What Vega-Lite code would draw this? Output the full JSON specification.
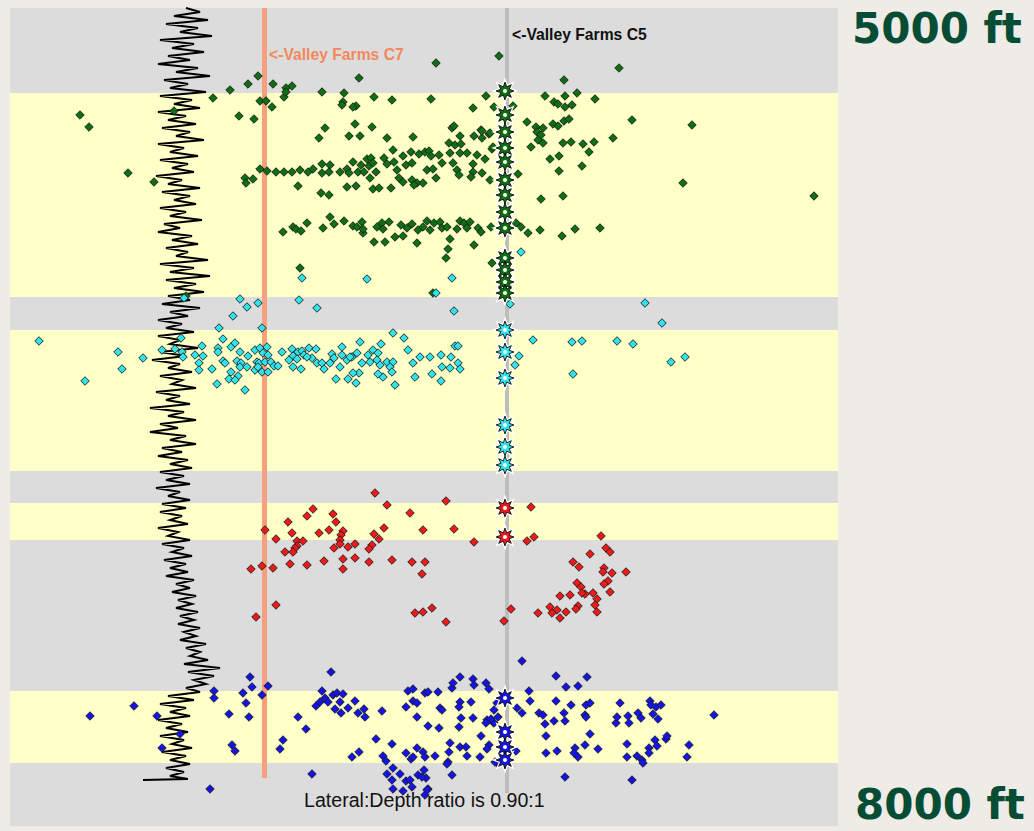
{
"$schema":"https://vega.github.io/schema/vega-lite/v6.json",
"width":828,"height":818,
"autosize":{"type":"none"},
"padding":{"left":10,"top":8,"right":196,"bottom":5},
"background":"#efebe7",
"view":{"fill":"#dcdcdc","stroke":null},
"datasets":{
"bands":[{"y":93,"y2":297},{"y":330,"y2":471},{"y":503,"y2":540},{"y":691,"y2":763}],
"wells":[{"name":"C7","x":264.5,"y":8,"y2":778},{"name":"C5","x":507,"y":8,"y2":793}],
"labels":[{"name":"C7","x":269,"y":55,"text":"<-Valley Farms C7"},{"name":"C5","x":512,"y":35,"text":"<-Valley Farms C5"},{"name":"ratio","x":304,"y":801,"text":"Lateral:Depth ratio is 0.90:1"},{"name":"depth","x":852,"y":30,"text":"5000 ft"},{"name":"depth","x":855,"y":806,"text":"8000 ft"}],
"log":[{"x":186,"y":8},{"x":200,"y":12},{"x":174,"y":16},{"x":208,"y":20},{"x":166,"y":24},{"x":198,"y":28},{"x":180,"y":32},{"x":212,"y":36},{"x":160,"y":40},{"x":194,"y":44},{"x":172,"y":48},{"x":204,"y":52},{"x":168,"y":56},{"x":190,"y":60},{"x":158,"y":64},{"x":198,"y":68},{"x":176,"y":72},{"x":210,"y":76},{"x":164,"y":80},{"x":188,"y":84},{"x":170,"y":88},{"x":206,"y":92},{"x":160,"y":96},{"x":192,"y":100},{"x":174,"y":104},{"x":200,"y":108},{"x":158,"y":112},{"x":186,"y":116},{"x":168,"y":120},{"x":196,"y":124},{"x":162,"y":128},{"x":190,"y":132},{"x":176,"y":136},{"x":204,"y":140},{"x":158,"y":144},{"x":184,"y":148},{"x":170,"y":152},{"x":198,"y":156},{"x":160,"y":160},{"x":188,"y":164},{"x":172,"y":168},{"x":194,"y":172},{"x":156,"y":176},{"x":182,"y":180},{"x":168,"y":184},{"x":200,"y":188},{"x":162,"y":192},{"x":190,"y":196},{"x":174,"y":200},{"x":196,"y":204},{"x":160,"y":208},{"x":186,"y":212},{"x":170,"y":216},{"x":202,"y":220},{"x":164,"y":224},{"x":180,"y":228},{"x":158,"y":232},{"x":192,"y":236},{"x":172,"y":240},{"x":198,"y":244},{"x":166,"y":248},{"x":188,"y":252},{"x":176,"y":256},{"x":208,"y":260},{"x":160,"y":264},{"x":194,"y":268},{"x":170,"y":272},{"x":210,"y":276},{"x":166,"y":280},{"x":196,"y":284},{"x":174,"y":288},{"x":204,"y":292},{"x":168,"y":296},{"x":190,"y":300},{"x":162,"y":304},{"x":200,"y":308},{"x":170,"y":312},{"x":188,"y":316},{"x":158,"y":320},{"x":182,"y":324},{"x":166,"y":328},{"x":194,"y":332},{"x":158,"y":336},{"x":180,"y":340},{"x":170,"y":344},{"x":198,"y":348},{"x":160,"y":352},{"x":186,"y":356},{"x":152,"y":360},{"x":180,"y":364},{"x":168,"y":368},{"x":192,"y":372},{"x":160,"y":376},{"x":182,"y":380},{"x":172,"y":384},{"x":196,"y":388},{"x":156,"y":392},{"x":180,"y":396},{"x":166,"y":400},{"x":190,"y":404},{"x":150,"y":408},{"x":184,"y":412},{"x":168,"y":416},{"x":196,"y":420},{"x":160,"y":424},{"x":178,"y":428},{"x":150,"y":432},{"x":186,"y":436},{"x":170,"y":440},{"x":196,"y":444},{"x":162,"y":448},{"x":182,"y":452},{"x":158,"y":456},{"x":188,"y":460},{"x":170,"y":464},{"x":192,"y":468},{"x":160,"y":472},{"x":184,"y":476},{"x":166,"y":480},{"x":190,"y":484},{"x":156,"y":488},{"x":180,"y":492},{"x":168,"y":496},{"x":190,"y":500},{"x":162,"y":504},{"x":186,"y":508},{"x":160,"y":512},{"x":182,"y":516},{"x":170,"y":520},{"x":188,"y":524},{"x":158,"y":528},{"x":178,"y":532},{"x":168,"y":536},{"x":190,"y":540},{"x":162,"y":544},{"x":184,"y":548},{"x":172,"y":552},{"x":192,"y":556},{"x":164,"y":560},{"x":186,"y":564},{"x":170,"y":568},{"x":188,"y":572},{"x":166,"y":576},{"x":194,"y":580},{"x":176,"y":584},{"x":190,"y":588},{"x":172,"y":592},{"x":196,"y":596},{"x":178,"y":600},{"x":192,"y":604},{"x":176,"y":608},{"x":198,"y":612},{"x":180,"y":616},{"x":194,"y":620},{"x":178,"y":624},{"x":200,"y":628},{"x":184,"y":632},{"x":196,"y":636},{"x":180,"y":640},{"x":206,"y":644},{"x":186,"y":648},{"x":200,"y":652},{"x":190,"y":656},{"x":208,"y":660},{"x":184,"y":664},{"x":220,"y":668},{"x":188,"y":672},{"x":214,"y":676},{"x":194,"y":680},{"x":206,"y":684},{"x":186,"y":688},{"x":200,"y":692},{"x":168,"y":696},{"x":194,"y":700},{"x":160,"y":704},{"x":186,"y":708},{"x":170,"y":712},{"x":190,"y":716},{"x":158,"y":720},{"x":182,"y":724},{"x":166,"y":728},{"x":188,"y":732},{"x":160,"y":736},{"x":184,"y":740},{"x":172,"y":744},{"x":192,"y":748},{"x":162,"y":752},{"x":186,"y":756},{"x":170,"y":760},{"x":190,"y":764},{"x":166,"y":768},{"x":184,"y":772},{"x":170,"y":776},{"x":188,"y":779},{"x":143,"y":780}],
"stars":[{"z":"g","x":505,"y":91},{"z":"g","x":505,"y":115},{"z":"g","x":505,"y":132},{"z":"g","x":505,"y":148},{"z":"g","x":505,"y":162},{"z":"g","x":505,"y":180},{"z":"g","x":505,"y":195},{"z":"g","x":505,"y":212},{"z":"g","x":505,"y":228},{"z":"g","x":505,"y":258},{"z":"g","x":505,"y":270},{"z":"g","x":505,"y":282},{"z":"g","x":505,"y":293},{"z":"c","x":505,"y":330},{"z":"c","x":505,"y":352},{"z":"c","x":505,"y":378},{"z":"c","x":505,"y":425},{"z":"c","x":505,"y":447},{"z":"c","x":505,"y":465},{"z":"r","x":505,"y":508},{"z":"r","x":505,"y":537},{"z":"b","x":505,"y":698},{"z":"b","x":505,"y":732},{"z":"b","x":505,"y":747},{"z":"b","x":505,"y":760}],
"pts":[
{"z":"g","x":258,"y":76},{"z":"g","x":248,"y":84},{"z":"g","x":230,"y":90},{"z":"g","x":213,"y":98},{"z":"g","x":273,"y":84},{"z":"g","x":286,"y":88},{"z":"g","x":292,"y":86},{"z":"g","x":284,"y":97},{"z":"g","x":286,"y":92},{"z":"g","x":359,"y":78},{"z":"g","x":322,"y":92},{"z":"g","x":344,"y":93},{"z":"g","x":374,"y":97},{"z":"g","x":392,"y":100},{"z":"g","x":260,"y":101},{"z":"g","x":266,"y":101},{"z":"g","x":272,"y":107},{"z":"g","x":343,"y":102},{"z":"g","x":342,"y":105},{"z":"g","x":356,"y":106},{"z":"g","x":353,"y":107},{"z":"g","x":239,"y":116},{"z":"g","x":254,"y":119},{"z":"g","x":80,"y":115},{"z":"g","x":89,"y":127},{"z":"g","x":174,"y":111},{"z":"g","x":325,"y":128},{"z":"g","x":319,"y":138},{"z":"g","x":349,"y":136},{"z":"g","x":360,"y":136},{"z":"g","x":355,"y":124},{"z":"g","x":372,"y":127},{"z":"g","x":387,"y":138},{"z":"g","x":413,"y":137},{"z":"g","x":393,"y":150},{"z":"g","x":128,"y":173},{"z":"g","x":154,"y":182},
{"z":"g","x":436,"y":63},{"z":"g","x":499,"y":56},{"z":"g","x":619,"y":68},{"z":"g","x":564,"y":80},{"z":"g","x":431,"y":99},{"z":"g","x":486,"y":96},{"z":"g","x":494,"y":107},{"z":"g","x":513,"y":106},{"z":"g","x":545,"y":96},{"z":"g","x":554,"y":102},{"z":"g","x":558,"y":104},{"z":"g","x":565,"y":96},{"z":"g","x":565,"y":107},{"z":"g","x":572,"y":105},{"z":"g","x":577,"y":93},{"z":"g","x":595,"y":99},{"z":"g","x":473,"y":108},{"z":"g","x":527,"y":122},{"z":"g","x":536,"y":127},{"z":"g","x":537,"y":132},{"z":"g","x":543,"y":128},{"z":"g","x":541,"y":135},{"z":"g","x":538,"y":140},{"z":"g","x":543,"y":143},{"z":"g","x":553,"y":124},{"z":"g","x":558,"y":126},{"z":"g","x":564,"y":121},{"z":"g","x":569,"y":119},{"z":"g","x":632,"y":120},{"z":"g","x":692,"y":125},{"z":"g","x":452,"y":128},{"z":"g","x":454,"y":126},{"z":"g","x":481,"y":130},{"z":"g","x":474,"y":136},{"z":"g","x":482,"y":138},{"z":"g","x":489,"y":134},{"z":"g","x":460,"y":136},{"z":"g","x":449,"y":143},{"z":"g","x":455,"y":145},{"z":"g","x":461,"y":144},{"z":"g","x":492,"y":149},{"z":"g","x":493,"y":147},{"z":"g","x":531,"y":147},{"z":"g","x":563,"y":143},{"z":"g","x":571,"y":142},{"z":"g","x":583,"y":144},{"z":"g","x":594,"y":142},{"z":"g","x":613,"y":138},{"z":"g","x":589,"y":152},{"z":"g","x":559,"y":156},{"z":"g","x":550,"y":159},{"z":"g","x":582,"y":166},{"z":"g","x":559,"y":171},{"z":"g","x":518,"y":174},{"z":"g","x":683,"y":183},{"z":"g","x":814,"y":196},{"z":"g","x":541,"y":199},{"z":"g","x":563,"y":196},{"z":"g","x":482,"y":131},{"z":"g","x":490,"y":133},
{"z":"g","x":245,"y":178},{"z":"g","x":246,"y":183},{"z":"g","x":253,"y":179},{"z":"g","x":260,"y":169},{"z":"g","x":267,"y":171},{"z":"g","x":276,"y":172},{"z":"g","x":284,"y":172},{"z":"g","x":292,"y":172},{"z":"g","x":300,"y":170},{"z":"g","x":308,"y":172},{"z":"g","x":313,"y":169},{"z":"g","x":322,"y":164},{"z":"g","x":330,"y":165},{"z":"g","x":322,"y":173},{"z":"g","x":329,"y":172},{"z":"g","x":340,"y":172},{"z":"g","x":347,"y":169},{"z":"g","x":349,"y":173},{"z":"g","x":353,"y":162},{"z":"g","x":358,"y":172},{"z":"g","x":361,"y":165},{"z":"g","x":364,"y":172},{"z":"g","x":367,"y":159},{"z":"g","x":369,"y":166},{"z":"g","x":371,"y":158},{"z":"g","x":373,"y":163},{"z":"g","x":376,"y":172},{"z":"g","x":384,"y":158},{"z":"g","x":387,"y":164},{"z":"g","x":394,"y":162},{"z":"g","x":397,"y":170},{"z":"g","x":403,"y":156},{"z":"g","x":406,"y":165},{"z":"g","x":412,"y":163},{"z":"g","x":411,"y":152},{"z":"g","x":419,"y":154},{"z":"g","x":425,"y":152},{"z":"g","x":429,"y":151},{"z":"g","x":431,"y":156},{"z":"g","x":439,"y":155},{"z":"g","x":442,"y":163},{"z":"g","x":450,"y":153},{"z":"g","x":453,"y":163},{"z":"g","x":460,"y":153},{"z":"g","x":467,"y":153},{"z":"g","x":473,"y":164},{"z":"g","x":477,"y":155},{"z":"g","x":485,"y":159},{"z":"g","x":482,"y":173},{"z":"g","x":473,"y":172},{"z":"g","x":490,"y":180},
{"z":"g","x":370,"y":178},{"z":"g","x":373,"y":189},{"z":"g","x":379,"y":188},{"z":"g","x":391,"y":188},{"z":"g","x":399,"y":178},{"z":"g","x":403,"y":182},{"z":"g","x":412,"y":180},{"z":"g","x":417,"y":183},{"z":"g","x":423,"y":183},{"z":"g","x":414,"y":185},{"z":"g","x":427,"y":170},{"z":"g","x":433,"y":169},{"z":"g","x":436,"y":178},{"z":"g","x":457,"y":170},{"z":"g","x":459,"y":175},{"z":"g","x":471,"y":177},{"z":"g","x":298,"y":186},{"z":"g","x":347,"y":187},{"z":"g","x":356,"y":186},{"z":"g","x":321,"y":193},{"z":"g","x":329,"y":195},
{"z":"g","x":283,"y":232},{"z":"g","x":293,"y":227},{"z":"g","x":296,"y":229},{"z":"g","x":301,"y":231},{"z":"g","x":307,"y":223},{"z":"g","x":323,"y":228},{"z":"g","x":330,"y":217},{"z":"g","x":334,"y":224},{"z":"g","x":344,"y":221},{"z":"g","x":353,"y":226},{"z":"g","x":357,"y":227},{"z":"g","x":362,"y":222},{"z":"g","x":363,"y":233},{"z":"g","x":363,"y":229},{"z":"g","x":374,"y":242},{"z":"g","x":377,"y":227},{"z":"g","x":382,"y":223},{"z":"g","x":383,"y":229},{"z":"g","x":385,"y":242},{"z":"g","x":389,"y":222},{"z":"g","x":395,"y":237},{"z":"g","x":401,"y":225},{"z":"g","x":403,"y":236},{"z":"g","x":407,"y":228},{"z":"g","x":412,"y":224},{"z":"g","x":417,"y":243},{"z":"g","x":418,"y":230},{"z":"g","x":423,"y":227},{"z":"g","x":427,"y":221},{"z":"g","x":430,"y":230},{"z":"g","x":434,"y":223},{"z":"g","x":440,"y":222},{"z":"g","x":442,"y":228},{"z":"g","x":447,"y":227},{"z":"g","x":450,"y":239},{"z":"g","x":448,"y":249},{"z":"g","x":446,"y":258},{"z":"g","x":457,"y":229},{"z":"g","x":460,"y":221},{"z":"g","x":464,"y":223},{"z":"g","x":467,"y":228},{"z":"g","x":470,"y":222},{"z":"g","x":474,"y":245},{"z":"g","x":478,"y":228},{"z":"g","x":481,"y":232},{"z":"g","x":491,"y":227},{"z":"g","x":492,"y":263},{"z":"g","x":516,"y":223},{"z":"g","x":521,"y":227},{"z":"g","x":528,"y":233},{"z":"g","x":540,"y":230},{"z":"g","x":562,"y":236},{"z":"g","x":575,"y":229},{"z":"g","x":600,"y":228},{"z":"g","x":300,"y":268},{"z":"g","x":186,"y":296},{"z":"g","x":433,"y":293},
{"z":"c","x":184,"y":298},{"z":"c","x":240,"y":299},{"z":"c","x":247,"y":307},{"z":"c","x":258,"y":303},{"z":"c","x":233,"y":316},{"z":"c","x":299,"y":300},{"z":"c","x":317,"y":308},{"z":"c","x":219,"y":328},{"z":"c","x":262,"y":328},{"z":"c","x":39,"y":341},{"z":"c","x":118,"y":352},{"z":"c","x":143,"y":358},{"z":"c","x":122,"y":369},{"z":"c","x":85,"y":381},{"z":"c","x":181,"y":338},{"z":"c","x":162,"y":350},{"z":"c","x":175,"y":349},{"z":"c","x":182,"y":352},{"z":"c","x":183,"y":357},{"z":"c","x":195,"y":355},{"z":"c","x":202,"y":346},{"z":"c","x":203,"y":356},{"z":"c","x":199,"y":363},{"z":"c","x":199,"y":370},{"z":"c","x":212,"y":369},{"z":"c","x":217,"y":384},{"z":"c","x":223,"y":339},{"z":"c","x":218,"y":348},{"z":"c","x":218,"y":352},{"z":"c","x":223,"y":361},{"z":"c","x":225,"y":363},{"z":"c","x":231,"y":347},{"z":"c","x":235,"y":343},{"z":"c","x":240,"y":352},{"z":"c","x":237,"y":361},{"z":"c","x":241,"y":363},{"z":"c","x":240,"y":367},{"z":"c","x":248,"y":356},{"z":"c","x":247,"y":367},{"z":"c","x":231,"y":372},{"z":"c","x":238,"y":376},{"z":"c","x":229,"y":379},{"z":"c","x":235,"y":380},{"z":"c","x":245,"y":390},{"z":"c","x":255,"y":350},{"z":"c","x":260,"y":348},{"z":"c","x":267,"y":347},{"z":"c","x":263,"y":353},{"z":"c","x":268,"y":355},{"z":"c","x":257,"y":362},{"z":"c","x":259,"y":363},{"z":"c","x":265,"y":362},{"z":"c","x":271,"y":362},{"z":"c","x":274,"y":366},{"z":"c","x":278,"y":366},{"z":"c","x":255,"y":370},{"z":"c","x":262,"y":372},{"z":"c","x":268,"y":372},{"z":"c","x":258,"y":367},{"z":"c","x":282,"y":352},{"z":"c","x":292,"y":349},{"z":"c","x":293,"y":356},{"z":"c","x":298,"y":352},{"z":"c","x":302,"y":351},{"z":"c","x":304,"y":355},{"z":"c","x":309,"y":348},{"z":"c","x":316,"y":349},{"z":"c","x":312,"y":358},{"z":"c","x":307,"y":357},{"z":"c","x":289,"y":360},{"z":"c","x":293,"y":367},{"z":"c","x":297,"y":359},{"z":"c","x":301,"y":369},{"z":"c","x":317,"y":363},{"z":"c","x":322,"y":363},{"z":"c","x":324,"y":369},{"z":"c","x":330,"y":363},{"z":"c","x":332,"y":354},{"z":"c","x":334,"y":358},{"z":"c","x":340,"y":367},{"z":"c","x":342,"y":347},{"z":"c","x":342,"y":355},{"z":"c","x":347,"y":360},{"z":"c","x":352,"y":357},{"z":"c","x":357,"y":353},{"z":"c","x":360,"y":342},{"z":"c","x":362,"y":363},{"z":"c","x":368,"y":355},{"z":"c","x":370,"y":362},{"z":"c","x":373,"y":350},{"z":"c","x":378,"y":353},{"z":"c","x":381,"y":344},{"z":"c","x":377,"y":360},{"z":"c","x":380,"y":365},{"z":"c","x":387,"y":362},{"z":"c","x":393,"y":362},{"z":"c","x":390,"y":367},{"z":"c","x":393,"y":333},{"z":"c","x":404,"y":338},{"z":"c","x":408,"y":350},{"z":"c","x":413,"y":363},{"z":"c","x":415,"y":377},{"z":"c","x":395,"y":385},{"z":"c","x":392,"y":372},{"z":"c","x":383,"y":377},{"z":"c","x":378,"y":374},{"z":"c","x":359,"y":373},{"z":"c","x":353,"y":373},{"z":"c","x":356,"y":383},{"z":"c","x":348,"y":379},{"z":"c","x":336,"y":379},{"z":"c","x":350,"y":357},
{"z":"c","x":436,"y":293},{"z":"c","x":454,"y":311},{"z":"c","x":645,"y":303},{"z":"c","x":662,"y":323},{"z":"c","x":455,"y":346},{"z":"c","x":458,"y":346},{"z":"c","x":533,"y":340},{"z":"c","x":572,"y":342},{"z":"c","x":582,"y":341},{"z":"c","x":617,"y":341},{"z":"c","x":633,"y":344},{"z":"c","x":671,"y":362},{"z":"c","x":685,"y":357},{"z":"c","x":573,"y":374},{"z":"c","x":420,"y":357},{"z":"c","x":430,"y":357},{"z":"c","x":441,"y":355},{"z":"c","x":451,"y":357},{"z":"c","x":458,"y":363},{"z":"c","x":460,"y":369},{"z":"c","x":450,"y":368},{"z":"c","x":442,"y":367},{"z":"c","x":432,"y":374},{"z":"c","x":441,"y":381},{"z":"c","x":519,"y":356},{"z":"c","x":515,"y":365},{"z":"c","x":510,"y":304},{"z":"c","x":302,"y":278},{"z":"c","x":367,"y":279},{"z":"c","x":452,"y":278},{"z":"c","x":521,"y":252},
{"z":"r","x":375,"y":493},{"z":"r","x":387,"y":505},{"z":"r","x":410,"y":513},{"z":"r","x":446,"y":501},{"z":"r","x":531,"y":507},{"z":"r","x":313,"y":509},{"z":"r","x":307,"y":516},{"z":"r","x":288,"y":522},{"z":"r","x":333,"y":514},{"z":"r","x":336,"y":522},{"z":"r","x":265,"y":530},{"z":"r","x":292,"y":533},{"z":"r","x":319,"y":533},{"z":"r","x":329,"y":530},{"z":"r","x":343,"y":531},{"z":"r","x":341,"y":535},{"z":"r","x":340,"y":540},{"z":"r","x":384,"y":528},{"z":"r","x":374,"y":534},{"z":"r","x":379,"y":539},{"z":"r","x":423,"y":530},{"z":"r","x":454,"y":529},{"z":"r","x":474,"y":542},{"z":"r","x":527,"y":541},{"z":"r","x":534,"y":537},{"z":"r","x":601,"y":536},{"z":"r","x":276,"y":539},{"z":"r","x":297,"y":541},{"z":"r","x":303,"y":541},{"z":"r","x":297,"y":546},{"z":"r","x":295,"y":548},{"z":"r","x":285,"y":552},{"z":"r","x":293,"y":552},{"z":"r","x":334,"y":548},{"z":"r","x":340,"y":544},{"z":"r","x":348,"y":547},{"z":"r","x":355,"y":544},{"z":"r","x":372,"y":545},{"z":"r","x":369,"y":549},{"z":"r","x":324,"y":561},{"z":"r","x":307,"y":565},{"z":"r","x":290,"y":564},{"z":"r","x":343,"y":559},{"z":"r","x":355,"y":558},{"z":"r","x":369,"y":562},{"z":"r","x":392,"y":560},{"z":"r","x":412,"y":562},{"z":"r","x":425,"y":562},{"z":"r","x":343,"y":569},{"z":"r","x":422,"y":574},{"z":"r","x":251,"y":569},{"z":"r","x":262,"y":566},{"z":"r","x":273,"y":568},{"z":"r","x":276,"y":605},{"z":"r","x":256,"y":617},{"z":"r","x":415,"y":613},{"z":"r","x":423,"y":612},{"z":"r","x":432,"y":608},{"z":"r","x":446,"y":622},{"z":"r","x":504,"y":621},{"z":"r","x":511,"y":609},{"z":"r","x":606,"y":548},{"z":"r","x":610,"y":552},{"z":"r","x":590,"y":554},{"z":"r","x":573,"y":562},{"z":"r","x":579,"y":567},{"z":"r","x":604,"y":568},{"z":"r","x":603,"y":572},{"z":"r","x":612,"y":573},{"z":"r","x":626,"y":572},{"z":"r","x":608,"y":581},{"z":"r","x":604,"y":584},{"z":"r","x":577,"y":583},{"z":"r","x":581,"y":587},{"z":"r","x":610,"y":592},{"z":"r","x":593,"y":593},{"z":"r","x":585,"y":594},{"z":"r","x":582,"y":593},{"z":"r","x":570,"y":595},{"z":"r","x":560,"y":596},{"z":"r","x":597,"y":599},{"z":"r","x":595,"y":605},{"z":"r","x":578,"y":606},{"z":"r","x":576,"y":609},{"z":"r","x":566,"y":612},{"z":"r","x":557,"y":610},{"z":"r","x":550,"y":607},{"z":"r","x":552,"y":613},{"z":"r","x":560,"y":618},{"z":"r","x":538,"y":613},{"z":"r","x":597,"y":612},
{"z":"b","x":90,"y":716},{"z":"b","x":134,"y":706},{"z":"b","x":157,"y":716},{"z":"b","x":180,"y":734},{"z":"b","x":162,"y":748},{"z":"b","x":214,"y":691},{"z":"b","x":214,"y":698},{"z":"b","x":229,"y":714},{"z":"b","x":232,"y":745},{"z":"b","x":235,"y":751},{"z":"b","x":243,"y":693},{"z":"b","x":246,"y":703},{"z":"b","x":249,"y":717},{"z":"b","x":250,"y":677},{"z":"b","x":252,"y":687},{"z":"b","x":262,"y":695},{"z":"b","x":268,"y":686},{"z":"b","x":210,"y":789},{"z":"b","x":298,"y":717},{"z":"b","x":306,"y":729},{"z":"b","x":283,"y":740},{"z":"b","x":280,"y":749},{"z":"b","x":312,"y":774},{"z":"b","x":331,"y":672},{"z":"b","x":322,"y":691},{"z":"b","x":316,"y":706},{"z":"b","x":320,"y":702},{"z":"b","x":325,"y":698},{"z":"b","x":328,"y":702},{"z":"b","x":333,"y":695},{"z":"b","x":337,"y":693},{"z":"b","x":343,"y":694},{"z":"b","x":340,"y":702},{"z":"b","x":335,"y":709},{"z":"b","x":341,"y":713},{"z":"b","x":348,"y":708},{"z":"b","x":355,"y":701},{"z":"b","x":358,"y":713},{"z":"b","x":364,"y":709},{"z":"b","x":365,"y":717},{"z":"b","x":382,"y":711},{"z":"b","x":376,"y":739},{"z":"b","x":392,"y":744},{"z":"b","x":352,"y":757},{"z":"b","x":359,"y":752},{"z":"b","x":383,"y":756},{"z":"b","x":386,"y":761},{"z":"b","x":393,"y":768},{"z":"b","x":387,"y":774},{"z":"b","x":392,"y":780},{"z":"b","x":400,"y":774},{"z":"b","x":406,"y":781},{"z":"b","x":393,"y":789},{"z":"b","x":403,"y":791},{"z":"b","x":410,"y":780},{"z":"b","x":412,"y":787},{"z":"b","x":406,"y":753},{"z":"b","x":411,"y":759},{"z":"b","x":413,"y":757},{"z":"b","x":408,"y":691},{"z":"b","x":413,"y":689},{"z":"b","x":413,"y":701},{"z":"b","x":406,"y":707},{"z":"b","x":417,"y":703},{"z":"b","x":417,"y":717},{"z":"b","x":428,"y":726},{"z":"b","x":425,"y":693},{"z":"b","x":428,"y":692},{"z":"b","x":438,"y":692},{"z":"b","x":440,"y":708},{"z":"b","x":442,"y":710},{"z":"b","x":439,"y":728},{"z":"b","x":417,"y":748},{"z":"b","x":423,"y":752},{"z":"b","x":425,"y":757},{"z":"b","x":424,"y":770},{"z":"b","x":418,"y":775},{"z":"b","x":426,"y":778},{"z":"b","x":428,"y":789},{"z":"b","x":425,"y":795},{"z":"b","x":435,"y":756},{"z":"b","x":448,"y":762},{"z":"b","x":447,"y":764},{"z":"b","x":452,"y":775},{"z":"b","x":450,"y":743},{"z":"b","x":449,"y":752},{"z":"b","x":460,"y":747},{"z":"b","x":466,"y":747},{"z":"b","x":467,"y":756},{"z":"b","x":480,"y":757},{"z":"b","x":481,"y":736},{"z":"b","x":489,"y":745},{"z":"b","x":487,"y":749},{"z":"b","x":459,"y":727},{"z":"b","x":461,"y":718},{"z":"b","x":473,"y":718},{"z":"b","x":471,"y":702},{"z":"b","x":460,"y":702},{"z":"b","x":459,"y":707},{"z":"b","x":452,"y":688},{"z":"b","x":453,"y":683},{"z":"b","x":460,"y":677},{"z":"b","x":473,"y":679},{"z":"b","x":474,"y":685},{"z":"b","x":486,"y":683},{"z":"b","x":489,"y":689},{"z":"b","x":494,"y":710},{"z":"b","x":493,"y":722},{"z":"b","x":498,"y":717},{"z":"b","x":497,"y":703},{"z":"b","x":487,"y":720},{"z":"b","x":497,"y":763},{"z":"b","x":522,"y":661},{"z":"b","x":556,"y":676},{"z":"b","x":587,"y":677},{"z":"b","x":566,"y":687},{"z":"b","x":578,"y":686},{"z":"b","x":529,"y":691},{"z":"b","x":530,"y":701},{"z":"b","x":556,"y":701},{"z":"b","x":571,"y":705},{"z":"b","x":586,"y":705},{"z":"b","x":590,"y":703},{"z":"b","x":620,"y":703},{"z":"b","x":650,"y":701},{"z":"b","x":651,"y":705},{"z":"b","x":656,"y":707},{"z":"b","x":661,"y":705},{"z":"b","x":714,"y":715},{"z":"b","x":494,"y":723},{"z":"b","x":491,"y":719},{"z":"b","x":486,"y":723},{"z":"b","x":517,"y":708},{"z":"b","x":522,"y":713},{"z":"b","x":539,"y":713},{"z":"b","x":543,"y":715},{"z":"b","x":545,"y":724},{"z":"b","x":554,"y":721},{"z":"b","x":564,"y":713},{"z":"b","x":565,"y":721},{"z":"b","x":585,"y":715},{"z":"b","x":586,"y":717},{"z":"b","x":616,"y":723},{"z":"b","x":617,"y":717},{"z":"b","x":629,"y":723},{"z":"b","x":628,"y":716},{"z":"b","x":638,"y":713},{"z":"b","x":641,"y":718},{"z":"b","x":653,"y":714},{"z":"b","x":658,"y":719},{"z":"b","x":495,"y":762},{"z":"b","x":516,"y":751},{"z":"b","x":546,"y":736},{"z":"b","x":546,"y":753},{"z":"b","x":557,"y":751},{"z":"b","x":575,"y":748},{"z":"b","x":574,"y":753},{"z":"b","x":578,"y":757},{"z":"b","x":585,"y":745},{"z":"b","x":590,"y":734},{"z":"b","x":598,"y":749},{"z":"b","x":627,"y":744},{"z":"b","x":627,"y":757},{"z":"b","x":637,"y":756},{"z":"b","x":642,"y":760},{"z":"b","x":643,"y":763},{"z":"b","x":649,"y":748},{"z":"b","x":649,"y":753},{"z":"b","x":655,"y":740},{"z":"b","x":657,"y":746},{"z":"b","x":666,"y":739},{"z":"b","x":667,"y":736},{"z":"b","x":689,"y":745},{"z":"b","x":687,"y":757},{"z":"b","x":565,"y":777},{"z":"b","x":632,"y":780},{"z":"b","x":422,"y":777},{"z":"b","x":427,"y":790}
]},
"layer":[
{"data":{"name":"bands"},"mark":{"type":"rect","fill":"#ffffc8"},
 "encoding":{"x":{"datum":10,"type":"quantitative","scale":{"domain":[10,838],"nice":false,"zero":false},"axis":null},"x2":{"datum":838},
 "y":{"field":"y","type":"quantitative","scale":{"domain":[8,826],"nice":false,"zero":false,"reverse":true},"axis":null},"y2":{"field":"y2"}}},
{"data":{"name":"log"},"mark":{"type":"line","color":"#000000","strokeWidth":2,"interpolate":"linear"},
 "encoding":{"x":{"field":"x","type":"quantitative","scale":{"domain":[10,838],"nice":false,"zero":false},"axis":null},
 "y":{"field":"y","type":"quantitative","scale":{"domain":[8,826],"nice":false,"zero":false,"reverse":true},"axis":null},
 "order":{"field":"y","type":"quantitative"}}},
{"data":{"name":"wells"},"transform":[{"filter":"datum.name == 'C7'"}],"mark":{"type":"rule","color":"#f6a07e","strokeWidth":5},
 "encoding":{"x":{"field":"x","type":"quantitative","scale":{"domain":[10,838],"nice":false,"zero":false},"axis":null},
 "y":{"field":"y","type":"quantitative","scale":{"domain":[8,826],"nice":false,"zero":false,"reverse":true},"axis":null},"y2":{"field":"y2"}}},
{"data":{"name":"wells"},"transform":[{"filter":"datum.name == 'C5'"}],"mark":{"type":"rule","color":"#bdbdbd","strokeWidth":4},
 "encoding":{"x":{"field":"x","type":"quantitative","scale":{"domain":[10,838],"nice":false,"zero":false},"axis":null},
 "y":{"field":"y","type":"quantitative","scale":{"domain":[8,826],"nice":false,"zero":false,"reverse":true},"axis":null},"y2":{"field":"y2"}}},
{"data":{"name":"pts"},"mark":{"type":"point","shape":"diamond","filled":true,"size":72,"stroke":"#1c1c1c","strokeWidth":0.9,"opacity":1},
 "encoding":{"x":{"field":"x","type":"quantitative","scale":{"domain":[10,838],"nice":false,"zero":false},"axis":null},
 "y":{"field":"y","type":"quantitative","scale":{"domain":[8,826],"nice":false,"zero":false,"reverse":true},"axis":null},
 "color":{"field":"z","type":"nominal","scale":{"domain":["g","c","r","b"],"range":["#0e6e12","#30e2ea","#ee1a1a","#1414e4"]},"legend":null}}},
{"data":{"name":"stars"},"mark":{"type":"point","shape":"M0,-1L0.191,-0.462L0.707,-0.707L0.462,-0.191L1,0L0.462,0.191L0.707,0.707L0.191,0.462L0,1L-0.191,0.462L-0.707,0.707L-0.462,0.191L-1,0L-0.462,-0.191L-0.707,-0.707L-0.191,-0.462Z","filled":true,"size":520,"fill":"#ffffff","stroke":"#ffffff","strokeWidth":1.5,"opacity":1},
 "encoding":{"x":{"field":"x","type":"quantitative","scale":{"domain":[10,838],"nice":false,"zero":false},"axis":null},
 "y":{"field":"y","type":"quantitative","scale":{"domain":[8,826],"nice":false,"zero":false,"reverse":true},"axis":null}}},
{"data":{"name":"stars"},"mark":{"type":"point","shape":"M0,-1L0.191,-0.462L0.707,-0.707L0.462,-0.191L1,0L0.462,0.191L0.707,0.707L0.191,0.462L0,1L-0.191,0.462L-0.707,0.707L-0.462,0.191L-1,0L-0.462,-0.191L-0.707,-0.707L-0.191,-0.462Z","filled":true,"size":320,"stroke":"#111111","strokeWidth":0.9,"opacity":1},
 "encoding":{"x":{"field":"x","type":"quantitative","scale":{"domain":[10,838],"nice":false,"zero":false},"axis":null},
 "y":{"field":"y","type":"quantitative","scale":{"domain":[8,826],"nice":false,"zero":false,"reverse":true},"axis":null},
 "color":{"field":"z","type":"nominal","scale":{"domain":["g","c","r","b"],"range":["#0e6e12","#30e2ea","#ee1a1a","#1414e4"]},"legend":null}}},
{"data":{"name":"stars"},"mark":{"type":"point","shape":"circle","filled":true,"size":16,"fill":"#ffffff","opacity":1},
 "encoding":{"x":{"field":"x","type":"quantitative","scale":{"domain":[10,838],"nice":false,"zero":false},"axis":null},
 "y":{"field":"y","type":"quantitative","scale":{"domain":[8,826],"nice":false,"zero":false,"reverse":true},"axis":null}}},
{"data":{"name":"labels"},"transform":[{"filter":"datum.name == 'C7'"}],"mark":{"type":"text","align":"left","baseline":"middle","font":"Liberation Sans","fontSize":15.7,"fontWeight":"bold","color":"#f2885c"},
 "encoding":{"x":{"field":"x","type":"quantitative","scale":{"domain":[10,838],"nice":false,"zero":false},"axis":null},
 "y":{"field":"y","type":"quantitative","scale":{"domain":[8,826],"nice":false,"zero":false,"reverse":true},"axis":null},"text":{"field":"text"}}},
{"data":{"name":"labels"},"transform":[{"filter":"datum.name == 'C5'"}],"mark":{"type":"text","align":"left","baseline":"middle","font":"Liberation Sans","fontSize":15.7,"fontWeight":"bold","color":"#111111"},
 "encoding":{"x":{"field":"x","type":"quantitative","scale":{"domain":[10,838],"nice":false,"zero":false},"axis":null},
 "y":{"field":"y","type":"quantitative","scale":{"domain":[8,826],"nice":false,"zero":false,"reverse":true},"axis":null},"text":{"field":"text"}}},
{"data":{"name":"labels"},"transform":[{"filter":"datum.name == 'ratio'"}],"mark":{"type":"text","align":"left","baseline":"middle","font":"Liberation Sans","fontSize":19.6,"color":"#111111"},
 "encoding":{"x":{"field":"x","type":"quantitative","scale":{"domain":[10,838],"nice":false,"zero":false},"axis":null},
 "y":{"field":"y","type":"quantitative","scale":{"domain":[8,826],"nice":false,"zero":false,"reverse":true},"axis":null},"text":{"field":"text"}}},
{"data":{"name":"labels"},"transform":[{"filter":"datum.name == 'depth'"}],"mark":{"type":"text","align":"left","baseline":"middle","font":"DejaVu Sans","fontSize":42,"fontWeight":"bold","color":"#074d35"},
 "encoding":{"x":{"field":"x","type":"quantitative","scale":{"domain":[10,838],"nice":false,"zero":false},"axis":null},
 "y":{"field":"y","type":"quantitative","scale":{"domain":[8,826],"nice":false,"zero":false,"reverse":true},"axis":null},"text":{"field":"text"}}}
]
}
